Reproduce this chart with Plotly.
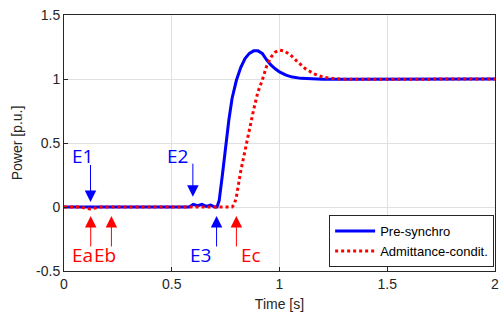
import plotly.graph_objects as go

# Pre-synchro (blue)
t_pre = [0, 0.1, 0.2, 0.3, 0.4, 0.5, 0.58, 0.6, 0.62, 0.64, 0.66, 0.68, 0.7, 0.71, 0.72,
         0.735, 0.75, 0.765, 0.78, 0.8, 0.82, 0.84, 0.86, 0.88, 0.9, 0.92, 0.94, 0.96,
         0.98, 1.0, 1.03, 1.06, 1.1, 1.15, 1.2, 1.3, 1.5, 1.75, 2.0]
p_pre = [0, 0, 0, 0, 0, 0, 0.0, 0.02, 0.01, 0.02, 0.005, 0.015, 0.0, 0.0, 0.05,
         0.25, 0.47, 0.68, 0.85, 0.99, 1.09, 1.16, 1.2, 1.22, 1.22, 1.2, 1.15, 1.11,
         1.08, 1.055, 1.03, 1.015, 1.005, 1.0, 0.998, 0.998, 1.0, 1.0, 1.0]

# Admittance-condit. (red)
t_adm = [0, 0.08, 0.1, 0.12, 0.14, 0.16, 0.2, 0.4, 0.6, 0.7, 0.78, 0.79, 0.8, 0.82,
         0.84, 0.86, 0.88, 0.9, 0.92, 0.94, 0.96, 0.98, 1.0, 1.02, 1.05, 1.08, 1.12,
         1.16, 1.2, 1.25, 1.3, 1.4, 1.6, 1.8, 2.0]
p_adm = [0, 0, -0.01, -0.015, -0.01, 0, 0, 0, 0, 0, 0, 0.02, 0.08, 0.28,
         0.45, 0.6, 0.76, 0.9, 0.99, 1.1, 1.17, 1.21, 1.225, 1.22, 1.19, 1.14, 1.08,
         1.04, 1.015, 1.003, 0.998, 0.998, 1.0, 1.0, 1.0]

x_ticks = [0, 0.5, 1, 1.5, 2]
y_ticks = [-0.5, 0, 0.5, 1, 1.5]

# Event arrows: (time, tip value, tail value, colour)
arrows = [(0.123, 0.04, 0.34, "blue"), (0.598, 0.08, 0.35, "blue"),
          (0.124, -0.07, -0.32, "red"), (0.22, -0.07, -0.32, "red"),
          (0.708, -0.07, -0.32, "blue"), (0.80, -0.07, -0.32, "red")]
# Event labels: (text, time, value, colour)
labels = [("E1", 0.087, 0.40, "blue"), ("E2", 0.526, 0.40, "blue"),
          ("Ea", 0.085, -0.375, "red"), ("Eb", 0.19, -0.375, "red"),
          ("E3", 0.634, -0.375, "blue"), ("Ec", 0.867, -0.375, "red")]

fig = go.Figure()
fig.add_trace(go.Scatter(x=t_pre, y=p_pre, mode="lines", name="Pre-synchro",
                         line=dict(color="#0000ff", width=3)))
fig.add_trace(go.Scatter(x=t_adm, y=p_adm, mode="lines", name="Admittance-condit.",
                         line=dict(color="#ff0000", width=3, dash="dot")))

for t, tip, tail, col in arrows:
    fig.add_annotation(x=t, y=tip, ax=t, ay=tail, xref="x", yref="y",
                       axref="x", ayref="y", showarrow=True, arrowhead=2,
                       arrowsize=2.3, arrowwidth=1, arrowcolor=col, text="")

for label, t, v, col in labels:
    fig.add_annotation(x=t, y=v, text=label, showarrow=False,
                       xanchor="center", yanchor="middle",
                       font=dict(family="Open Sans", size=19, color=col))

fig.update_layout(
    width=504, height=323,
    margin=dict(l=64, r=5, t=15, b=52),
    paper_bgcolor="white", plot_bgcolor="white",
    font=dict(family="Liberation Sans", size=13, color="#262626"),
    showlegend=True,
    legend=dict(x=0.998, y=0.015, xanchor="right", yanchor="bottom",
                bgcolor="white", bordercolor="#262626", borderwidth=1,
                font=dict(size=13, color="black"), tracegroupgap=0,
                itemwidth=40),
    xaxis=dict(range=[0, 2], tickvals=x_ticks, ticktext=[str(v) for v in x_ticks],
               showgrid=True, gridcolor="#e0e0e0", gridwidth=1,
               showline=True, linecolor="#262626", mirror=True, zeroline=False,
               ticks="inside", ticklen=4, tickcolor="#262626",
               tickfont=dict(size=14),
               title=dict(text="Time [s]", standoff=8, font=dict(size=14))),
    yaxis=dict(range=[-0.5, 1.5], tickvals=y_ticks, ticktext=["-0.5", "0", "0.5", "1", "1.5"],
               showgrid=True, gridcolor="#e0e0e0", gridwidth=1,
               showline=True, linecolor="#262626", mirror=True, zeroline=False,
               ticks="inside", ticklen=4, tickcolor="#262626",
               tickfont=dict(size=14),
               title=dict(text="Power [p.u.]", standoff=10, font=dict(size=14))),
)

fig.write_html("out.html")
